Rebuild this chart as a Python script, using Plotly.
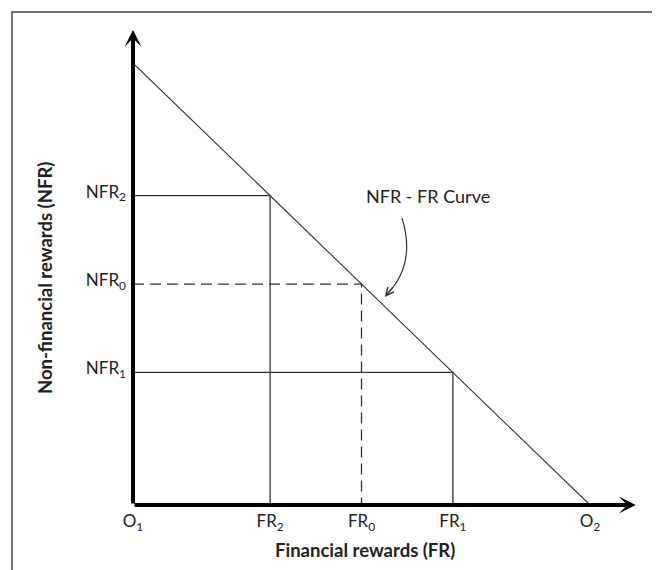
import plotly.graph_objects as go

# ---- data ----
x_tick_vals = [0, 3, 5, 7, 10]
x_tick_text = ["O<sub>1</sub>", "FR<sub>2</sub>", "FR<sub>0</sub>", "FR<sub>1</sub>", "O<sub>2</sub>"]
y_tick_vals = [7, 5, 3]
y_tick_text = ["NFR<sub>2</sub>", "NFR<sub>0</sub>", "NFR<sub>1</sub>"]

curve_fr = [0, 10]      # NFR - FR curve endpoints (financial rewards)
curve_nfr = [10, 0]     # (non-financial rewards)

fr_levels = [3, 5, 7]   # FR2, FR0, FR1
nfr_levels = [7, 5, 3]  # NFR2, NFR0, NFR1
level_dash = ["solid", "11px,6px", "solid"]

x_max = 11.0
y_max = 10.75

FONT = "Lato, 'Open Sans', sans-serif"
LINE_COL = "#333333"

fig = go.Figure()

# curve
fig.add_trace(go.Scatter(x=curve_fr, y=curve_nfr, mode="lines",
                         line=dict(color=LINE_COL, width=1.1),
                         hoverinfo="skip", showlegend=False))

# guide lines for each point
for fr, nfr, d in zip(fr_levels, nfr_levels, level_dash):
    fig.add_trace(go.Scatter(x=[0, fr, fr], y=[nfr, nfr, 0], mode="lines",
                             line=dict(color=LINE_COL, width=1.3, dash=d),
                             hoverinfo="skip", showlegend=False))

annotations = []
# axes with arrowheads
annotations.append(dict(x=x_max, y=0, ax=0, ay=0, xref="x", yref="y", axref="x", ayref="y",
                        text="", showarrow=True, arrowhead=3, arrowwidth=4, arrowsize=0.7,
                        arrowcolor="black"))
annotations.append(dict(x=0, y=y_max, ax=0, ay=0, xref="x", yref="y", axref="x", ayref="y",
                        text="", showarrow=True, arrowhead=3, arrowwidth=4, arrowsize=0.7,
                        arrowcolor="black"))

# curve label
annotations.append(dict(x=6.45, y=6.99, xref="x", yref="y", text="NFR - FR Curve",
                        xanchor="center", yanchor="middle",
                        showarrow=False, font=dict(family=FONT, size=18, color="#222")))
# arrow head of the curved pointer
annotations.append(dict(x=5.51, y=4.71, xref="x", yref="y", ax=9, ay=-11,
                        text="", showarrow=True, arrowhead=5, arrowwidth=1.2, arrowsize=1.3,
                        arrowcolor=LINE_COL))

# axis titles
annotations.append(dict(x=0.459, y=-0.0947, xref="paper", yref="paper",
                        xanchor="center", yanchor="middle",
                        text="<b>Financial rewards (FR)</b>", showarrow=False,
                        font=dict(family=FONT, size=18.5, color="#222")))
annotations.append(dict(x=-0.174, y=0.478, xref="paper", yref="paper",
                        xanchor="center", yanchor="middle",
                        text="<b>Non-financial rewards (NFR)</b>", showarrow=False, textangle=-90,
                        font=dict(family=FONT, size=18.5, color="#222")))

shapes = [
    # outer frame
    dict(type="rect", xref="paper", yref="paper", x0=-0.2396, x1=1.0317, y0=-0.16, y1=1.0379,
         line=dict(color="#444", width=1.5), layer="below"),
    # curved pointer
    dict(type="path", xref="x", yref="y",
         path="M 5.886 6.495 Q 6.20 5.45 5.55 4.76",
         line=dict(color=LINE_COL, width=1.2)),
]

fig.update_layout(
    width=660, height=570,
    margin=dict(l=125, r=30, t=22, b=73),
    paper_bgcolor="white", plot_bgcolor="white",
    font=dict(family=FONT, size=17, color="#222"),
    showlegend=False,
    annotations=annotations,
    shapes=shapes,
    xaxis=dict(range=[0, x_max + 0.05], tickvals=x_tick_vals, ticktext=x_tick_text,
               showgrid=False, zeroline=False, showline=False, ticks="",
               ticklabelstandoff=4, tickfont=dict(family=FONT, size=17, color="#222"),
               fixedrange=True),
    yaxis=dict(range=[0, y_max], tickvals=y_tick_vals, ticktext=y_tick_text,
               showgrid=False, zeroline=False, showline=False, ticks="",
               ticklabelstandoff=6, ticklabelshift=-4,
               tickfont=dict(family=FONT, size=17, color="#222"),
               fixedrange=True),
)

fig.write_html("out.html")
